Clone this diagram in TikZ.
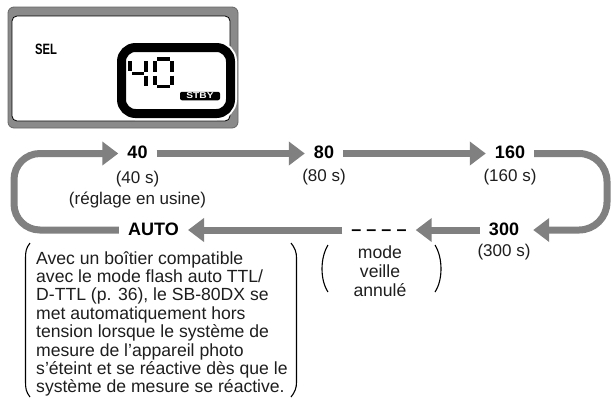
\documentclass[tikz,border=0pt]{standalone}
\usepackage{fontspec}
\usepackage{graphicx}
\setmainfont{Liberation Sans}
\usetikzlibrary{arrows.meta}
\definecolor{arrowgray}{RGB}{128,128,128}
\definecolor{lcdgray}{RGB}{138,138,138}
\definecolor{txt}{RGB}{30,30,30}
\begin{document}
\begin{tikzpicture}[x=1pt,y=-1pt,
  flow/.style={draw=arrowgray, line width=7pt, -{Triangle[length=16pt,width=23pt]}},
  lab/.style={font=\fontsize{18}{18}\selectfont\bfseries, inner xsep=9pt, inner ysep=0pt, text height=10pt, text depth=0pt},
  sub/.style={font=\fontsize{17}{19}\selectfont, text=txt, inner sep=0pt, anchor=base},
  body/.style={font=\fontsize{17.6}{18.4}\selectfont, text=txt, inner sep=0pt, align=left, anchor=north west},
  brk/.style={draw=black, line width=1.1pt},
  seg/.style={line width=3.2pt, draw=black}
]
\useasboundingbox (0,0) rectangle (612,400);
\fill[white] (0,0) rectangle (612,400);

% ---------- LCD panel ----------
\draw[fill=lcdgray, draw=black!60, line width=0.8pt, rounded corners=6pt] (8,7) rectangle (238,128);
\draw[fill=white, draw=black, line width=0.8pt, rounded corners=5pt] (12,16) rectangle (230,121);
\node[font=\fontsize{15}{15}\selectfont\bfseries, xscale=0.75, inner sep=0pt] (sel) at (46,49) {SEL};
\draw[white, line width=13pt, rounded corners=14pt] (121.5,47.5) rectangle (230.5,113.5);
\draw[fill=white, draw=black, line width=9pt, rounded corners=14pt] (121.5,47.5) rectangle (230.5,113.5);
% digit 4
\draw[seg] (130,61) -- (130,71);
\draw[seg] (132,73.5) -- (144,73.5);
\draw[seg] (146,61) -- (146,71.5);
\draw[seg] (146,75.5) -- (146,86);
% digit 0
\draw[seg] (157,59) -- (170,59);
\draw[seg] (172,61) -- (172,71.5);
\draw[seg] (172,75.5) -- (172,84.5);
\draw[seg] (157,86.5) -- (170,86.5);
\draw[seg] (155,75.5) -- (155,84.5);
\draw[seg] (155,61) -- (155,71.5);
\node[fill=black, rounded corners=2pt, minimum width=40pt, minimum height=8.5pt, inner sep=0pt,
      text=white, font=\fontsize{8.5}{8.5}\selectfont\bfseries] (stby) at (200,96) {\scalebox{1.2}[1]{STBY}};

% ---------- cycle labels ----------
\node[lab] (n40)   at (137.5,153.5) {40};
\node[lab] (n80)   at (324,153.5) {80};
\node[lab] (n160)  at (510,153.5) {160};
\node[lab] (n300)  at (504,230) {300};
\node[lab] (ndash) at (379,230) {– – – –};
\node[lab] (nauto) at (153.5,230) {AUTO};

\node[sub] (s40)  at (137.5,183.5) {(40 s)};
\node[sub] (s40b) at (137.5,204) {(réglage en usine)};
\node[sub] (s80)  at (324,181) {(80 s)};
\node[sub] (s160) at (510,181) {(160 s)};
\node[sub] (s300) at (504,256.5) {(300 s)};

% ---------- connectors ----------
\coordinate (rt) at (607,153.5);
\coordinate (rb) at (607,230);
\coordinate (lb) at (14,230);
\coordinate (lt) at (14,153.5);
\draw[flow] (n40) -- (n80);
\draw[flow] (n80) -- (n160);
\draw[flow, rounded corners=28pt] (n160.east) -- (rt) -- (rb) -- ([xshift=5pt]n300.east);
\draw[flow] (n300) -- (ndash);
\draw[flow] (ndash) -- (nauto);
\draw[flow, rounded corners=26pt] (nauto.west) -- (lb) -- (lt) -- (n40.west);

% ---------- explanation ----------
\node[body, align=center, anchor=north, font=\fontsize{17.6}{19}\selectfont] (veille) at (380,246) {mode\\veille\\annulé};
\draw[brk] (328,245) .. controls (320,258) and (320,280) .. (328,292);
\draw[brk] (435,245) .. controls (443,258) and (443,280) .. (435,292);

\node[body] (para) at (36,251) {Avec un boîtier compatible\\
avec le mode flash auto TTL/\\
D-TTL (p. 36), le SB-80DX se\\
met automatiquement hors\\
tension lorsque le système de\\
mesure de l’appareil photo\\
s’éteint et se réactive dès que le\\
système de mesure se réactive.};
\draw[brk] (30,243) .. controls (26,248) and (25.5,252) .. (25.5,258) -- (25.5,382) .. controls (25.5,388) and (26,392) .. (30,397);
\draw[brk] (291,243) .. controls (295,248) and (296.5,252) .. (296.5,258) -- (296.5,382) .. controls (296.5,388) and (295,392) .. (291,397);
\end{tikzpicture}
\end{document}
